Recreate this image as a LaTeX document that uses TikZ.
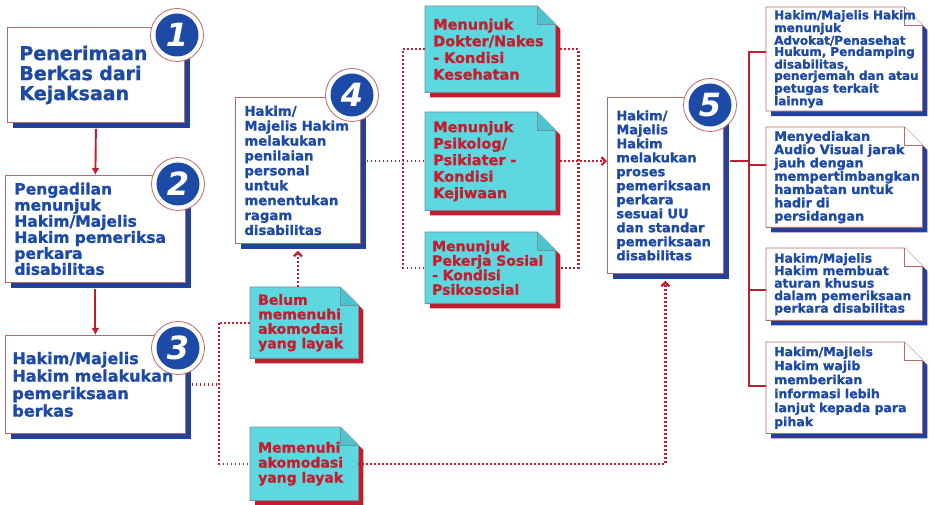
\documentclass[tikz,border=0pt]{standalone}
\usepackage{fontspec}
\setmainfont{DejaVu Sans}[BoldFeatures={FakeBold=1.2}]
\usetikzlibrary{shadows,backgrounds,calc,arrows.meta}
\hyphenpenalty=10000
\exhyphenpenalty=10000

\definecolor{txtblue}{HTML}{1D4AA6}
\definecolor{shblue}{HTML}{22409C}
\definecolor{txtred}{HTML}{C41E2E}
\definecolor{linered}{HTML}{BF1E2E}
\definecolor{notecyan}{HTML}{5DD8E1}
\definecolor{foldcyan}{HTML}{4BC3CE}
\definecolor{edgebrown}{HTML}{B86A66}
\definecolor{edgegrey}{HTML}{7E8E99}

\tikzset{
  stepbox/.style={draw=edgebrown,line width=.8pt,fill=white,anchor=north west,
    inner xsep=9pt,inner ysep=3pt,align=left,text=txtblue,
    drop shadow={shadow xshift=6pt,shadow yshift=-6pt,fill=shblue,opacity=1}},
  notetext/.style={anchor=north west,inner xsep=8pt,inner ysep=3pt,align=left},
  cyannote/.style={notetext,text=txtred},
  whitenote/.style={notetext,text=txtblue},
  numring/.style={circle,draw=edgebrown,line width=.8pt,fill=white,minimum size=53pt,
    inner sep=0pt,text=white,font=\fontsize{32}{32}\selectfont\bfseries\itshape,
    path picture={\fill[txtblue] (path picture bounding box.center) circle (21.5pt);}},
  dots/.style={draw=linered,line width=2.2pt,dash pattern=on 1.6pt off 2.4pt},
  link/.style={draw=linered,line width=1.9pt},
  >={Straight Barb[length=4pt,width=8pt]},
}

% sheet with a folded corner behind a text node
\newcommand{\notesheet}[5]{%
  \begin{pgfonlayer}{background}
    \fill[#3] ($(#1.north west)+(5,5)$) -- ($(#1.north east)+(-13,5)$)
      -- ($(#1.north east)+(5,23)$) -- ($(#1.south east)+(5,5)$)
      -- ($(#1.south west)+(5,5)$) -- cycle;
    \filldraw[fill=#2,draw=#4,line width=.8pt] (#1.north west)
      -- ($(#1.north east)+(-18,0)$) -- ($(#1.north east)+(0,18)$)
      -- (#1.south east) -- (#1.south west) -- cycle;
    \filldraw[fill=#5,draw=#4,line width=.8pt] ($(#1.north east)+(-18,0)$)
      -- ($(#1.north east)+(-18,18)$) -- ($(#1.north east)+(0,18)$);
  \end{pgfonlayer}}

\begin{document}
\begin{tikzpicture}[x=1pt,y=-1pt]
  \useasboundingbox (0,0) rectangle (930,505);
  \begin{pgfonlayer}{background}
    \fill[white] (0,0) rectangle (930,505);
  \end{pgfonlayer}

  % main steps
  \node[stepbox,inner xsep=12pt,text width=153pt,minimum height=95pt,
    font=\fontsize{19}{20}\selectfont\bfseries] (b1) at (7,27)
    {Penerimaan\\Berkas~dari\\Kejaksaan};
  \node[stepbox,text width=162pt,minimum height=107pt,
    font=\fontsize{15.5}{14.5}\selectfont\bfseries] (b2) at (5,175)
    {Pengadilan\\menunjuk\\Hakim/Majelis\\Hakim~pemeriksa\\perkara\\disabilitas};
  \node[stepbox,inner xsep=7pt,text width=166pt,minimum height=98pt,
    font=\fontsize{16}{17.5}\selectfont\bfseries] (b3) at (5,335)
    {Hakim/Majelis\\Hakim~melakukan\\pemeriksaan\\berkas};
  \node[stepbox,text width=107pt,minimum height=146pt,
    font=\fontsize{13.3}{14.9}\selectfont\bfseries] (b4) at (235,97)
    {Hakim/\\Majelis~Hakim\\melakukan\\penilaian\\personal\\untuk\\menentukan\\ragam\\disabilitas};
  \node[stepbox,text width=98pt,minimum height=176pt,
    font=\fontsize{13}{14}\selectfont\bfseries] (b5) at (607,97)
    {Hakim/\\Majelis\\Hakim\\melakukan\\proses\\pemeriksaan\\perkara\\sesuai~UU\\dan~standar\\pemeriksaan\\disabilitas};

  % accommodation notes
  \node[cyannote,text width=92pt,minimum height=71pt,
    font=\fontsize{14}{14.5}\selectfont\bfseries] (belum) at (250,287)
    {Belum\\memenuhi\\akomodasi\\yang~layak};
  \node[cyannote,text width=92pt,minimum height=73pt,
    font=\fontsize{14}{15}\selectfont\bfseries] (memenuhi) at (250,427)
    {Memenuhi\\akomodasi\\yang~layak};
  \node[cyannote,text width=114pt,minimum height=86pt,
    font=\fontsize{14.5}{16.7}\selectfont\bfseries] (dokter) at (425,6)
    {Menunjuk\\Dokter/Nakes\\-~Kondisi\\Kesehatan};
  \node[cyannote,text width=114pt,minimum height=98pt,
    font=\fontsize{14.5}{16.5}\selectfont\bfseries] (psikolog) at (425,112)
    {Menunjuk\\Psikolog/\\Psikiater~-\\Kondisi\\Kejiwaan};
  \node[cyannote,inner xsep=7pt,text width=116pt,minimum height=71pt,
    font=\fontsize{14}{14.5}\selectfont\bfseries] (pekerja) at (425,232)
    {Menunjuk\\Pekerja~Sosial\\-~Kondisi\\Psikososial};
  \foreach \n in {belum,memenuhi,dokter,psikolog,pekerja}
    {\notesheet{\n}{notecyan}{linered}{edgegrey}{foldcyan}}

  % hearing notes
  \node[whitenote,text width=140pt,minimum height=100pt,
    font=\fontsize{12}{11.2}\selectfont\bfseries] (noteA) at (766,7)
    {Hakim/Majelis~Hakim\\menunjuk\\Advokat/Penasehat\\Hukum,~Pendamping\\disabilitas,\\penerjemah~dan~atau\\petugas~terkait\\lainnya};
  \node[whitenote,text width=140pt,minimum height=100pt,
    font=\fontsize{12.8}{13.3}\selectfont\bfseries] (noteB) at (766,127)
    {Menyediakan\\Audio~Visual~jarak\\jauh~dengan\\mempertimbangkan\\hambatan~untuk\\hadir~di\\persidangan};
  \node[whitenote,text width=140pt,minimum height=72pt,
    font=\fontsize{12.4}{12.5}\selectfont\bfseries] (noteC) at (766,248)
    {Hakim/Majelis\\Hakim~membuat\\aturan~khusus\\dalam~pemeriksaan\\perkara~disabilitas};
  \node[whitenote,text width=140pt,minimum height=91pt,
    font=\fontsize{12.5}{14}\selectfont\bfseries] (noteD) at (766,342)
    {Hakim/Majleis\\Hakim~wajib\\memberikan\\informasi~lebih\\lanjut~kepada~para\\pihak};
  \foreach \n in {noteA,noteB,noteC,noteD}
    {\notesheet{\n}{white}{shblue}{edgebrown}{white}}

  % flow
  \draw[link,-{Latex[length=7pt,width=8pt]}] ($(b1.south)+(0,6)$) -- (b2.north);
  \draw[link,-{Latex[length=7pt,width=8pt]}] ($(b2.south)+(0,6)$) -- (b3.north);

  \coordinate (fork3) at ($(b3.east)+(33,0)$);
  \draw[dots] ($(b3.east)+(6,0)$) -- (fork3);
  \draw[dots] (belum.west) -| (fork3) |- (memenuhi.west);
  \draw[dots,->] (b4.south |- belum.north) -- ($(b4.south)+(0,7)$);
  \draw[dots,->] (memenuhi.east) -| ($(b5.south)+(0,7)$);

  \draw[dots] ($(b4.east |- psikolog.west)+(6,0)$) -- (psikolog.west);
  \draw[dots] (dokter.west) -| ($(psikolog.west)+(-22,0)$) |- (pekerja.west);
  \draw[dots] ($(dokter.east)+(5,0)$) -| ($(psikolog.east)+(23,0)$) |- ($(pekerja.east)+(5,0)$);
  \draw[dots,->] ($(psikolog.east)+(5,0)$) -- (psikolog.east -| b5.west);

  \coordinate (trunk) at ($(b5.east |- psikolog.east)+(25,0)$);
  \coordinate (brA) at ($(noteA.west)+(0,-7)$);
  \coordinate (brB) at ($(noteB.west)+(0,-12)$);
  \coordinate (brC) at ($(noteC.west)+(0,6)$);
  \coordinate (brD) at ($(noteD.west)+(0,-2)$);
  \draw[link] ($(b5.east |- psikolog.east)+(6,0)$) -- (trunk);
  \draw[link] (brA) -| (trunk) |- (brD);
  \draw[link] (trunk |- brB) -- (brB);
  \draw[link] (trunk |- brC) -- (brC);

  % step numbers
  \node[numring] (n1) at (177,35) {1};
  \node[numring] (n2) at (178,184) {2};
  \node[numring] (n3) at (178,348) {3};
  \node[numring] (n4) at (352,95) {4};
  \node[numring] (n5) at (710,105) {5};
\end{tikzpicture}
\end{document}
